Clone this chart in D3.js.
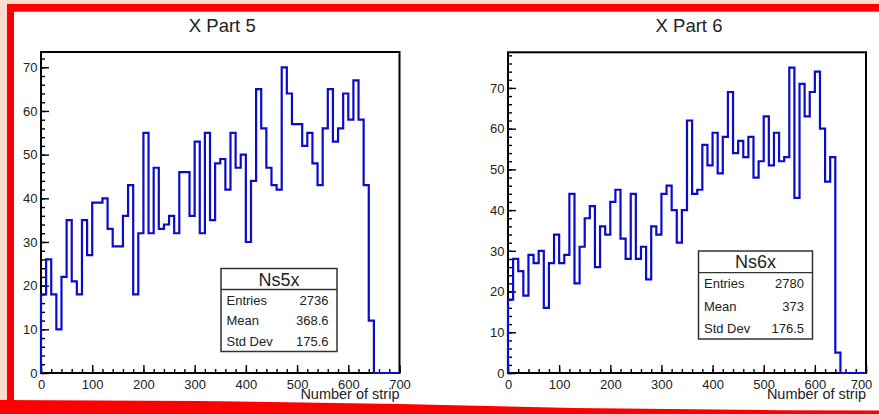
<!DOCTYPE html>
<html>
<head>
<meta charset="utf-8">
<script src="https://cdn.jsdelivr.net/npm/d3@7"></script>
<style>
  html, body { margin: 0; padding: 0; background: #fff; }
  svg { display: block; }
  text { font-family: "Liberation Sans", Arial, Helvetica, sans-serif; fill: #222; }
</style>
</head>
<body>
<svg id="chart" width="879" height="414"></svg>
<script>
// ---------------- data ----------------
const binWidth = 10;               // strip units per bin
const xTicks = [0, 100, 200, 300, 400, 500, 600, 700];
const xDomain = [0, 700];

// X Part 5 (Ns5x) bin contents, bins of 10 strips starting at 0
const countsPart5 = [
  18, 26, 18, 10, 22, 35, 21, 18, 35, 27,
  39, 39, 40, 33, 29, 29, 36, 43, 18, 32,
  55, 32, 47, 33, 34, 36, 32, 46, 46, 36,
  53, 32, 55, 35, 48, 49, 42, 55, 47, 50,
  30, 44, 65, 56, 47, 43, 42, 70, 64, 57,
  57, 52, 55, 48, 43, 56, 65, 53, 56, 64,
  58, 67, 58, 43, 12, 0, 0, 0, 0, 0
];
// X Part 6 (Ns6x)
const countsPart6 = [
  18, 28, 25, 19, 29, 27, 30, 16, 27, 34,
  27, 29, 44, 22, 31, 38, 41, 26, 36, 34,
  42, 45, 33, 28, 44, 28, 31, 23, 36, 34,
  44, 46, 40, 32, 40, 62, 44, 45, 56, 51,
  59, 49, 58, 69, 54, 57, 53, 58, 48, 52,
  63, 51, 59, 52, 53, 75, 43, 71, 63, 69,
  74, 60, 47, 53, 5, 0, 0, 0, 0, 0
];

const yTicksPart5 = [0, 10, 20, 30, 40, 50, 60, 70];
const yTicksPart6 = [0, 10, 20, 30, 40, 50, 60, 70];
const yMaxPart5 = 73.5;   // 1.05 * max
const yMaxPart6 = 78.75;

const titles = ["X Part 5", "X Part 6"];
const statNames = ["Ns5x", "Ns6x"];
const statLabels = ["Entries", "Mean", "Std Dev"];
const statValuesPart5 = ["2736", "368.6", "175.6"];
const statValuesPart6 = ["2780", "373", "176.5"];
const xTitle = "Number of strip";

// ---------------- layout ----------------
const svg = d3.select("#chart");
const W = 879, H = 414;

svg.append("rect").attr("x", 0).attr("y", 0).attr("width", W).attr("height", H).attr("fill", "#ffffff");

// decorative border (peach strip + red frame)
const peach = "#f9dccb", red = "#ff0000";
svg.append("rect").attr("x", 0).attr("y", 0).attr("width", W).attr("height", 4).attr("fill", peach);
svg.append("rect").attr("x", 0).attr("y", 0).attr("width", 7).attr("height", H).attr("fill", peach);
svg.append("rect").attr("x", 7).attr("y", 4).attr("width", W - 7).attr("height", 7.7).attr("fill", red);
svg.append("rect").attr("x", 7).attr("y", 4).attr("width", 7).attr("height", H - 4).attr("fill", red);
svg.append("path")
  .attr("d", "M0,400 L200,401 L400,404 L575,408 L780,410.3 L879,410.5 L879,414 L0,414 Z")
  .attr("fill", red);

const panels = [
  { counts: countsPart5, yTicks: yTicksPart5, yMax: yMaxPart5, title: titles[0],
    statName: statNames[0], statValues: statValuesPart5,
    x0: 41, x1: 399.5, y0: 373, y1: 52, lastLabelShift: 0,
    box: { x: 221, y: 268.5, w: 116, h: 83, head: 21, rows: [300, 320, 341.5] } },
  { counts: countsPart6, yTicks: yTicksPart6, yMax: yMaxPart6, title: titles[1],
    statName: statNames[1], statValues: statValuesPart6,
    x0: 508, x1: 866, y0: 373, y1: 52.3, lastLabelShift: -5,
    box: { x: 698.5, y: 251, w: 114, h: 88, head: 21.7, rows: [283.5, 306, 328.5] } }
];

const histColor = "#0b0bcc";

panels.forEach(p => {
  const g = svg.append("g");
  const x = d3.scaleLinear().domain(xDomain).range([p.x0, p.x1]);
  const y = d3.scaleLinear().domain([0, p.yMax]).range([p.y0, p.y1]);

  // title
  g.append("text")
    .attr("x", (p.x0 + p.x1) / 2 + 2)
    .attr("y", 31.7)
    .attr("text-anchor", "middle")
    .style("font-size", "18.5px")
    .text(p.title);

  // frame
  g.append("rect")
    .attr("x", p.x0).attr("y", p.y1)
    .attr("width", p.x1 - p.x0).attr("height", p.y0 - p.y1)
    .attr("fill", "none").attr("stroke", "#000").attr("stroke-width", 2);

  // x axis (major + minor ticks pointing inward)
  const xMinor = d3.range(0, 700.1, 20);
  const xAxisMinor = d3.axisBottom(x).tickValues(xMinor).tickSize(-4).tickFormat("");
  const xAxisMajor = d3.axisBottom(x).tickValues(xTicks).tickSize(-8).tickPadding(7).tickFormat(d3.format("d"));
  const gxm = g.append("g").attr("transform", `translate(0,${p.y0})`).call(xAxisMinor);
  const gx = g.append("g").attr("transform", `translate(0,${p.y0})`).call(xAxisMajor);
  [gxm, gx].forEach(a => {
    a.select(".domain").remove();
    a.selectAll("line").attr("stroke", "#000").attr("stroke-width", 1.4);
  });
  gx.selectAll("text")
    .style("font-size", "13px")
    .style("font-family", '"Liberation Sans", Arial, sans-serif')
    .attr("fill", "#222")
    .attr("dx", d => d === xDomain[1] ? p.lastLabelShift : 0);

  // y axis
  const yMinor = d3.range(0, p.yMax, 2);
  const yAxisMinor = d3.axisLeft(y).tickValues(yMinor).tickSize(-4).tickFormat("");
  const yAxisMajor = d3.axisLeft(y).tickValues(p.yTicks).tickSize(-8).tickPadding(3.5).tickFormat(d3.format("d"));
  const gym = g.append("g").attr("transform", `translate(${p.x0},0)`).call(yAxisMinor);
  const gy = g.append("g").attr("transform", `translate(${p.x0},0)`).call(yAxisMajor);
  [gym, gy].forEach(a => {
    a.select(".domain").remove();
    a.selectAll("line").attr("stroke", "#000").attr("stroke-width", 1.4);
  });
  gy.selectAll("text")
    .style("font-size", "13px")
    .style("font-family", '"Liberation Sans", Arial, sans-serif')
    .attr("fill", "#222");

  // axis title
  g.append("text")
    .attr("x", p.x1)
    .attr("y", 399.2)
    .attr("text-anchor", "end")
    .style("font-size", "14.5px")
    .text(xTitle);

  // histogram outline (step)
  const pts = [[0, 0]];
  p.counts.forEach((c, i) => {
    pts.push([i * binWidth, c]);
    pts.push([(i + 1) * binWidth, c]);
  });
  pts.push([p.counts.length * binWidth, 0]);
  const line = d3.line().x(d => x(d[0])).y(d => y(d[1]));
  g.append("path")
    .attr("d", line(pts))
    .attr("fill", "none")
    .attr("stroke", histColor)
    .attr("stroke-width", 2.2)
    .attr("stroke-linejoin", "miter");

  // stats box
  const b = p.box;
  const sb = g.append("g");
  sb.append("rect")
    .attr("x", b.x).attr("y", b.y).attr("width", b.w).attr("height", b.h)
    .attr("fill", "#fff").attr("stroke", "#333").attr("stroke-width", 1.5);
  sb.append("line")
    .attr("x1", b.x).attr("x2", b.x + b.w)
    .attr("y1", b.y + b.head).attr("y2", b.y + b.head)
    .attr("stroke", "#333").attr("stroke-width", 1.3);
  sb.append("text")
    .attr("x", b.x + b.w / 2).attr("y", b.y + b.head / 2 + 6.5)
    .attr("text-anchor", "middle")
    .style("font-size", "18px")
    .text(p.statName);
  statLabels.forEach((lab, i) => {
    sb.append("text")
      .attr("x", b.x + 5.5).attr("y", b.rows[i] + 4.6)
      .style("font-size", "13px")
      .text(lab);
    sb.append("text")
      .attr("x", b.x + b.w - 8.5).attr("y", b.rows[i] + 4.6)
      .attr("text-anchor", "end")
      .style("font-size", "13px")
      .text(p.statValues[i]);
  });
});
</script>
</body>
</html>
